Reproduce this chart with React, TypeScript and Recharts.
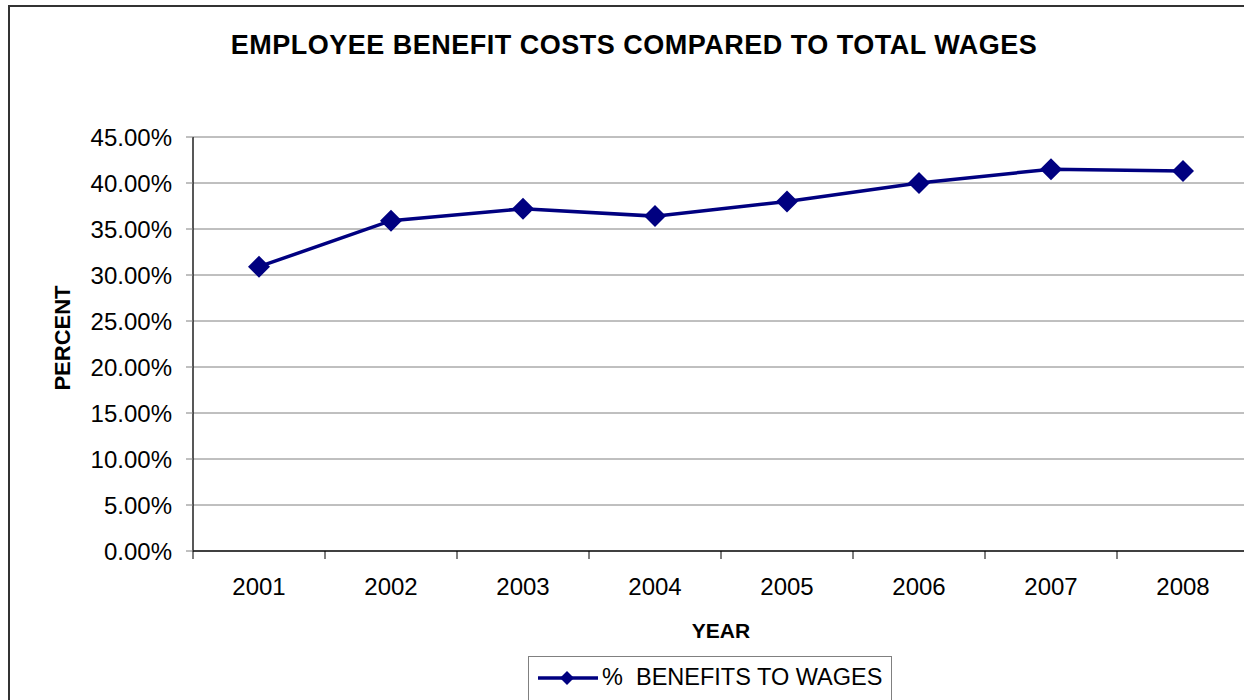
import {
  LineChart,
  Line,
  XAxis,
  YAxis,
  CartesianGrid,
  Legend,
} from "recharts";

const years = ["2001", "2002", "2003", "2004", "2005", "2006", "2007", "2008"];
const benefitPct = [30.9, 35.9, 37.2, 36.4, 38.0, 40.0, 41.5, 41.3];
const yTicks = [0, 5, 10, 15, 20, 25, 30, 35, 40, 45];

const NAVY = "#000080";
const FONT = "'Liberation Sans', Arial, sans-serif";

const data = years.map((year, i) => ({ x: i + 1, year, value: benefitPct[i] }));

// label ticks on the categories, plus tick marks on the gaps between them
const xTicks: number[] = [];
for (let i = 0; i <= years.length; i++) {
  xTicks.push(i + 0.5);
  if (i < years.length) xTicks.push(i + 1);
}

function XTick({ x, y, payload }: any) {
  const v = payload.value;
  if (Number.isInteger(v)) {
    return (
      <text x={x} y={y + 44} textAnchor="middle" fontSize={24} fill="#000">
        {years[v - 1]}
      </text>
    );
  }
  return <line x1={x} x2={x} y1={y} y2={y + 8} stroke="#000" strokeWidth={1} />;
}

function Diamond({ cx, cy, index }: any) {
  const s = 11;
  return (
    <path
      key={index}
      d={`M${cx},${cy - s} L${cx + s},${cy} L${cx},${cy + s} L${cx - s},${cy} Z`}
      fill={NAVY}
    />
  );
}

function LegendBox() {
  return (
    <div
      style={{
        border: "1px solid #808080",
        width: 364,
        height: 60,
        boxSizing: "border-box",
        display: "flex",
        alignItems: "flex-start",
        paddingTop: 5,
        paddingLeft: 8,
        background: "#fff",
      }}
    >
      <svg width={62} height={30}>
        <line x1={1} x2={61} y1={16} y2={16} stroke={NAVY} strokeWidth={3.5} />
        <path d="M30,9 L37,16 L30,23 L23,16 Z" fill={NAVY} />
      </svg>
      <span
        style={{
          fontSize: 23.5,
          whiteSpace: "pre",
          lineHeight: "30px",
          color: "#000",
          marginLeft: 3,
        }}
      >
        {"%  BENEFITS TO WAGES"}
      </span>
    </div>
  );
}

export default function App() {
  return (
    <div
      style={{
        position: "fixed",
        left: 0,
        top: 0,
        width: 1244,
        height: 700,
        overflow: "hidden",
        background: "#fff",
        fontFamily: FONT,
      }}
    >
      <div
        style={{
          position: "absolute",
          left: 8,
          top: 5,
          width: 1300,
          height: 800,
          border: "2px solid #333",
        }}
      />
      <div
        style={{
          position: "absolute",
          left: 0,
          top: 32,
          width: 1268,
          textAlign: "center",
          fontSize: 27,
          lineHeight: "27px",
          letterSpacing: "0.5px",
          fontWeight: "bold",
          color: "#000",
        }}
      >
        EMPLOYEE BENEFIT COSTS COMPARED TO TOTAL WAGES
      </div>
      <div style={{ position: "absolute", left: 0, top: 0 }}>
        <LineChart
          width={1270}
          height={720}
          data={data}
          margin={{ top: 137, right: 21, bottom: 79, left: 0 }}
          style={{ fontFamily: FONT }}
        >
          <CartesianGrid vertical={false} stroke="#808080" strokeWidth={1} />
          <XAxis
            dataKey="x"
            type="number"
            domain={[0.5, years.length + 0.5]}
            ticks={xTicks}
            interval={0}
            tick={<XTick />}
            tickLine={false}
            tickSize={0}
            tickMargin={0}
            height={90}
            axisLine={{ stroke: "#404040", strokeWidth: 2 }}
            label={({ viewBox }: any) => (
              <text
                x={viewBox.x + viewBox.width / 2}
                y={viewBox.y + 87}
                textAnchor="middle"
                fontSize={21}
                fontWeight="bold"
                fill="#000"
              >
                YEAR
              </text>
            )}
          />
          <YAxis
            width={193}
            domain={[0, 45]}
            ticks={yTicks}
            interval={0}
            tickFormatter={(v: number) => `${v.toFixed(2)}%`}
            tick={{ fontSize: 24, fill: "#000" }}
            tickSize={7}
            tickMargin={14}
            tickLine={{ stroke: "#808080" }}
            axisLine={{ stroke: "#202020", strokeWidth: 1.5 }}
            label={({ viewBox }: any) => {
              const cx = 62;
              const cy = viewBox.y + viewBox.height / 2 - 6;
              return (
                <text
                  x={cx}
                  y={cy}
                  transform={`rotate(-90, ${cx}, ${cy})`}
                  textAnchor="middle"
                  dominantBaseline="central"
                  fontSize={22}
                  fontWeight="bold"
                  fill="#000"
                >
                  PERCENT
                </text>
              );
            }}
          />
          <Legend
            layout="horizontal"
            verticalAlign="middle"
            align="center"
            content={() => <LegendBox />}
            wrapperStyle={{ position: "absolute", left: 528, top: 656, width: 364 }}
          />
          <Line
            type="linear"
            dataKey="value"
            name="% BENEFITS TO WAGES"
            stroke={NAVY}
            strokeWidth={3.5}
            dot={<Diamond />}
            activeDot={false}
            isAnimationActive={false}
          />
        </LineChart>
      </div>
    </div>
  );
}
